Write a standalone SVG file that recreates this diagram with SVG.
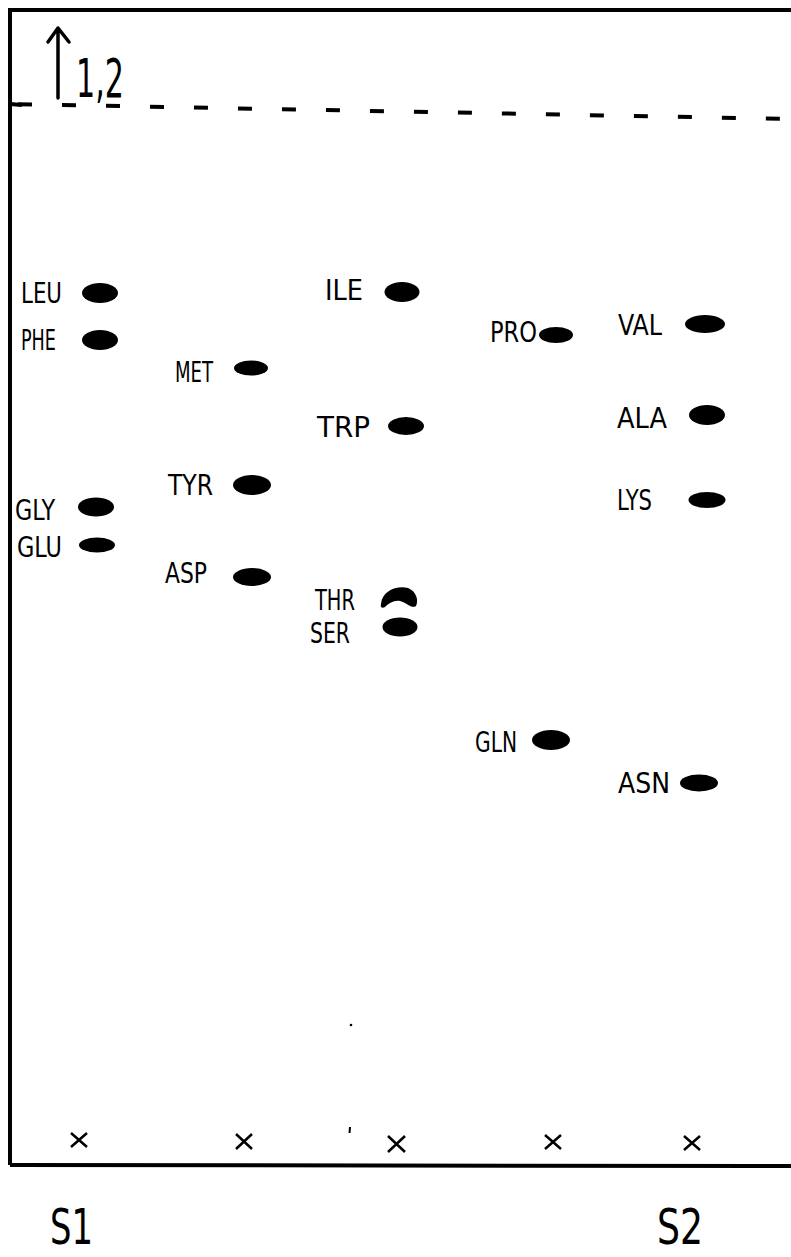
<svg xmlns="http://www.w3.org/2000/svg" width="791" height="1257" viewBox="0 0 791 1257">
<style>
.lbl{font-family:"DejaVu Sans Condensed","DejaVu Sans","Liberation Sans",sans-serif;font-size:28px;fill:#000}
.big{font-family:"DejaVu Sans Condensed","DejaVu Sans","Liberation Sans",sans-serif;font-size:54px;fill:#000}
.sm{font-family:"DejaVu Sans Condensed","DejaVu Sans","Liberation Sans",sans-serif;font-size:50px;fill:#000}
.spot{fill:#000}
.frame{stroke:#000;stroke-width:4;fill:none}
.x{stroke:#000;stroke-width:2.5;fill:none}
</style>
<rect width="791" height="1257" fill="#fff"/>
<g id="frame">
<path class="frame" d="M10 1165 L10 10 L791 10"/>
<path class="frame" d="M10 1165 L791 1166"/>
<path d="M10 104 L791 119" stroke="#000" stroke-width="4" fill="none" stroke-dasharray="14 30" stroke-dashoffset="-8"/>
<path d="M10 104 L22 105" stroke="#000" stroke-width="4"/>
</g>
<g id="direction">
<path d="M58 98 L58 29 M48 42 L58 28 L69 42" stroke="#000" stroke-width="3.5" fill="none" stroke-linecap="round" stroke-linejoin="round"/>
<text class="big" x="76" y="97" textLength="48" lengthAdjust="spacingAndGlyphs">1,2</text>
</g>
<g id="LEU"><text class="lbl" x="21" y="303" textLength="41" lengthAdjust="spacingAndGlyphs">LEU</text><ellipse class="spot" cx="100" cy="293" rx="18" ry="10"/></g>
<g id="PHE"><text class="lbl" x="21" y="350" textLength="35" lengthAdjust="spacingAndGlyphs">PHE</text><ellipse class="spot" cx="100" cy="340" rx="18" ry="10"/></g>
<g id="MET"><text class="lbl" x="175" y="382" textLength="38" lengthAdjust="spacingAndGlyphs">MET</text><ellipse class="spot" cx="251" cy="368" rx="17" ry="7.5"/></g>
<g id="ILE"><text class="lbl" x="325" y="300" textLength="38" lengthAdjust="spacingAndGlyphs">ILE</text><ellipse class="spot" cx="402" cy="292" rx="17.5" ry="10"/></g>
<g id="PRO"><text class="lbl" x="490" y="342" textLength="47" lengthAdjust="spacingAndGlyphs">PRO</text><ellipse class="spot" cx="556" cy="335" rx="17" ry="8"/></g>
<g id="VAL"><text class="lbl" x="618" y="335" textLength="44" lengthAdjust="spacingAndGlyphs">VAL</text><ellipse class="spot" cx="705" cy="324" rx="20" ry="9"/></g>
<g id="TRP"><text class="lbl" x="317" y="437" textLength="53" lengthAdjust="spacingAndGlyphs">TRP</text><ellipse class="spot" cx="406" cy="426" rx="18" ry="9"/></g>
<g id="ALA"><text class="lbl" x="617" y="428" textLength="50" lengthAdjust="spacingAndGlyphs">ALA</text><ellipse class="spot" cx="707" cy="415" rx="18" ry="10"/></g>
<g id="TYR"><text class="lbl" x="168" y="495" textLength="45" lengthAdjust="spacingAndGlyphs">TYR</text><ellipse class="spot" cx="252" cy="485" rx="19" ry="10"/></g>
<g id="GLY"><text class="lbl" x="15" y="520" textLength="40" lengthAdjust="spacingAndGlyphs">GLY</text><ellipse class="spot" cx="96" cy="507" rx="18" ry="9.5"/></g>
<g id="LYS"><text class="lbl" x="617" y="510" textLength="35" lengthAdjust="spacingAndGlyphs">LYS</text><ellipse class="spot" cx="707" cy="500" rx="18.5" ry="8"/></g>
<g id="GLU"><text class="lbl" x="17" y="557" textLength="45" lengthAdjust="spacingAndGlyphs">GLU</text><ellipse class="spot" cx="97" cy="545" rx="18" ry="7.5"/></g>
<g id="ASP"><text class="lbl" x="165" y="583" textLength="42" lengthAdjust="spacingAndGlyphs">ASP</text><ellipse class="spot" cx="252" cy="577" rx="19" ry="9"/></g>
<g id="THR"><text class="lbl" x="315" y="610" textLength="40" lengthAdjust="spacingAndGlyphs">THR</text><path class="spot" d="M381 604 C382 590 398 585 408 588 C416 591 419 600 416 606 C412 609 407 603 400 601 C394 600 388 604 385 607 C382 609 380 607 381 604 Z"/></g>
<g id="SER"><text class="lbl" x="310" y="643" textLength="40" lengthAdjust="spacingAndGlyphs">SER</text><ellipse class="spot" cx="400" cy="627" rx="17.5" ry="9.5"/></g>
<g id="GLN"><text class="lbl" x="475" y="752" textLength="42" lengthAdjust="spacingAndGlyphs">GLN</text><ellipse class="spot" cx="551" cy="740" rx="19" ry="10"/></g>
<g id="ASN"><text class="lbl" x="618" y="793" textLength="52" lengthAdjust="spacingAndGlyphs">ASN</text><ellipse class="spot" cx="699" cy="783" rx="19" ry="8.5"/></g>
<g id="origins">
<path class="x" d="M71 1133 L87 1147 M87 1133 L71 1147"/>
<path class="x" d="M236 1134 L252 1149 M252 1134 L236 1149"/>
<path class="x" d="M388 1136 L405 1152 M405 1136 L388 1152"/>
<path class="x" d="M545 1135 L561 1149 M561 1135 L545 1149"/>
<path class="x" d="M684 1136 L700 1150 M700 1136 L684 1150"/>
<path d="M350 1127 L349.5 1133" stroke="#000" stroke-width="2"/>
<circle cx="351" cy="1025" r="1.3" fill="#000"/>
</g>
<g id="samples">
<text class="sm" x="50" y="1244" textLength="43" lengthAdjust="spacingAndGlyphs">S1</text>
<text class="sm" x="657" y="1244" textLength="46" lengthAdjust="spacingAndGlyphs">S2</text>
</g>
</svg>
